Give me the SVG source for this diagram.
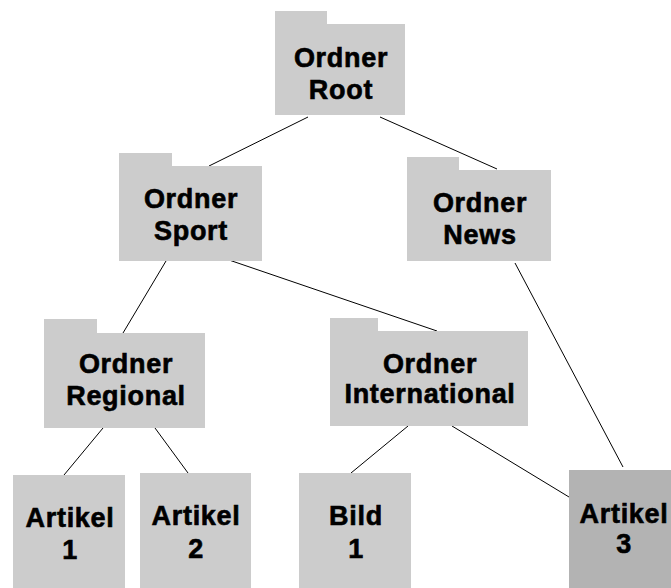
<svg xmlns="http://www.w3.org/2000/svg" width="671" height="588" viewBox="0 0 671 588">
  <style>
    .folder { fill: #cccccc; }
    .doc { fill: #cccccc; }
    .doc-hl { fill: #b3b3b3; }
    .edge { stroke: #000000; stroke-width: 1; fill: none; }
    .label { font-family: "Liberation Sans", Arial, sans-serif; font-weight: bold; font-size: 27px; letter-spacing: 0.7px; fill: #000000; stroke: #000000; stroke-width: 0.6px; text-anchor: middle; }
  </style>
  <rect width="671" height="588" fill="#ffffff"/>

  <!-- tree edges -->
  <g id="connectors">
    <line class="edge" x1="308" y1="117" x2="209" y2="166"/>
    <line class="edge" x1="380" y1="117" x2="497" y2="169"/>
    <line class="edge" x1="166" y1="261" x2="123" y2="333"/>
    <line class="edge" x1="229" y1="260" x2="437" y2="331"/>
    <line class="edge" x1="515" y1="263" x2="623" y2="467"/>
    <line class="edge" x1="103" y1="428" x2="64" y2="475"/>
    <line class="edge" x1="155" y1="428" x2="188" y2="473"/>
    <line class="edge" x1="408" y1="426" x2="351" y2="473"/>
    <line class="edge" x1="452" y1="426" x2="569" y2="497"/>
  </g>

  <!-- folders -->
  <g id="root">
    <path class="folder" d="M275,11 H327 V24 H405 V115 H275 Z"/>
    <text class="label" x="341" y="67">Ordner</text>
    <text class="label" x="341" y="99">Root</text>
  </g>
  <g id="sport">
    <path class="folder" d="M119,153 H172 V166 H262 V261 H119 Z"/>
    <text class="label" x="191" y="208">Ordner</text>
    <text class="label" x="191" y="240">Sport</text>
  </g>
  <g id="news">
    <path class="folder" d="M407,157 H459 V170 H551 V261 H407 Z"/>
    <text class="label" x="480" y="212">Ordner</text>
    <text class="label" x="480" y="244">News</text>
  </g>
  <g id="regional">
    <path class="folder" d="M44,319 H97 V333 H205 V428 H44 Z"/>
    <text class="label" x="126" y="373">Ordner</text>
    <text class="label" x="126" y="405">Regional</text>
  </g>
  <g id="international">
    <path class="folder" d="M330,318 H378 V331 H528 V426 H330 Z"/>
    <text class="label" x="430" y="373">Ordner</text>
    <text class="label" x="430" y="403">International</text>
  </g>

  <!-- documents -->
  <g id="artikel1">
    <rect class="doc" x="13" y="475" width="112" height="113"/>
    <text class="label" x="70" y="527">Artikel</text>
    <text class="label" x="70" y="559">1</text>
  </g>
  <g id="artikel2">
    <rect class="doc" x="140" y="473" width="111" height="115"/>
    <text class="label" x="196" y="525">Artikel</text>
    <text class="label" x="196" y="558">2</text>
  </g>
  <g id="bild1">
    <rect class="doc" x="299" y="473" width="112" height="115"/>
    <text class="label" x="356" y="525">Bild</text>
    <text class="label" x="356" y="558">1</text>
  </g>
  <g id="artikel3">
    <rect class="doc-hl" x="569" y="470" width="102" height="118"/>
    <text class="label" x="624" y="523">Artikel</text>
    <text class="label" x="624" y="553">3</text>
  </g>
</svg>
